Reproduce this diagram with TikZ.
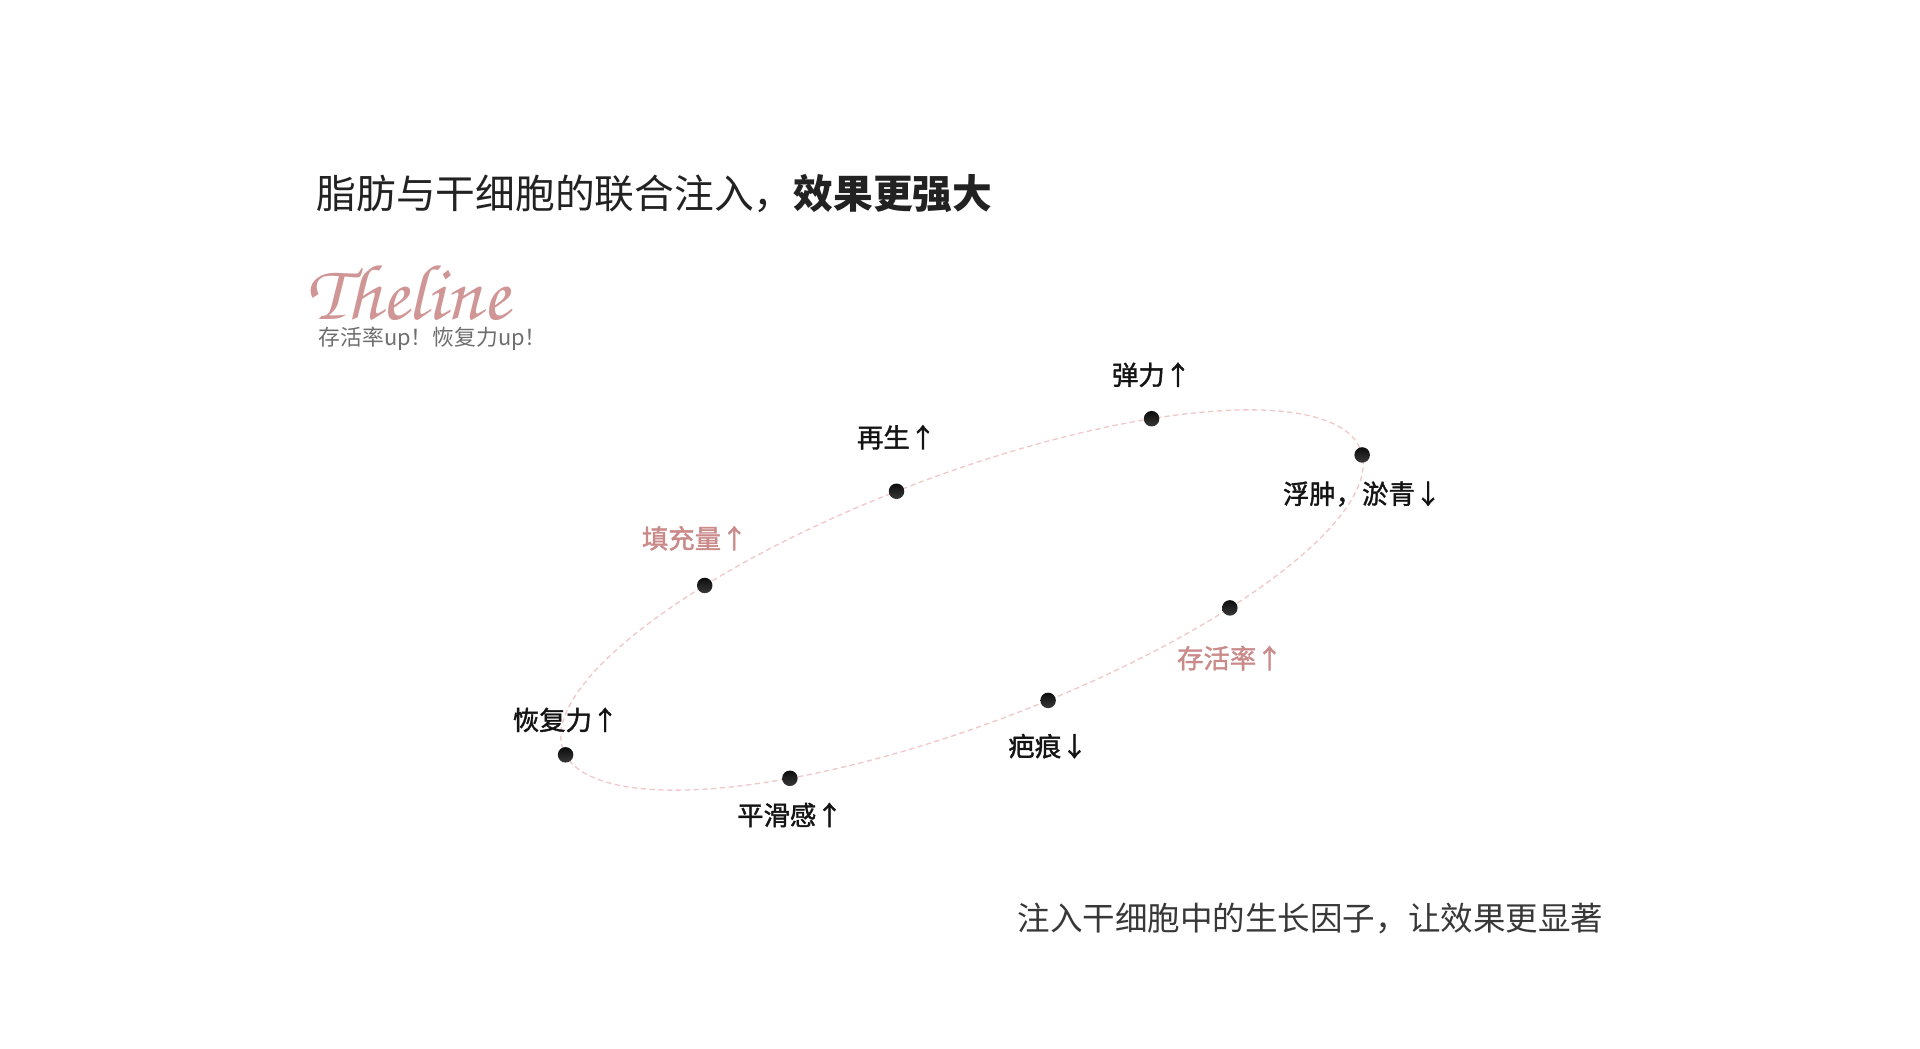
\documentclass[tikz,border=0pt]{standalone}
\usepackage{fontspec}
\setmainfont{Noto Sans CJK SC}
\newfontfamily\midfnt[FakeBold=1.5]{Noto Sans CJK SC}
\newfontfamily\scriptfnt{texgyrechorus-mediumitalic.otf}
\usetikzlibrary{positioning}
\definecolor{rose}{RGB}{203,138,138}
\definecolor{ringpink}{RGB}{240,200,200}
\definecolor{inkgray}{RGB}{34,34,34}
\definecolor{subgray}{RGB}{110,110,110}

\begin{document}
\begin{tikzpicture}[x=0.01cm,y=-0.01cm,
  dot/.style={circle,top color=black!95,bottom color=black!78,minimum size=0.155cm,inner sep=0pt},
  lbl/.style={inner sep=0pt,text height=0.82em,text depth=0.14em,font=\midfnt\fontsize{7.5pt}{8.5pt}\selectfont,text=black!92},
  pinklbl/.style={lbl,text=rose},
  plain/.style={anchor=base west,inner sep=0pt}]
\useasboundingbox[fill=white] (0,0) rectangle (1920,1049);
% heading
\node[plain,text=inkgray,font=\fontsize{11.3pt}{13pt}\selectfont] (title) at (316,209) {脂肪与干细胞的联合注入，\textbf{效果更强大}};
\node[plain,text=rose!90,text depth=0pt,font=\scriptfnt\fontsize{22.5pt}{22.5pt}\selectfont] (logo) at (306,320) {Theline};
\node[plain,text=subgray,font=\fontsize{6.2pt}{7pt}\selectfont] (sub) at (318,346) {存活率up！恢复力up！};
\node[plain,text=inkgray!90,font=\fontsize{9.25pt}{11pt}\selectfont] (note) at (1017,931) {注入干细胞中的生长因子，让效果更显著};
% ring
\begin{scope}[shift={(962,600)},rotate=20.6]
\draw[ringpink,line width=0.37pt,dash pattern=on 1.5pt off 1pt] (0,0) ellipse [x radius=426,y radius=125];
\node[dot] (p1) at (-182.5:426 and 125) {};
\node[dot] (p2) at (-238.3:426 and 125) {};
\node[dot] (p3) at (83.9:426 and 125) {};
\node[dot] (p4) at (54.4:426 and 125) {};
\node[dot] (p5) at (2.3:426 and 125) {};
\node[dot] (p6) at (-55.5:426 and 125) {};
\node[dot] (p7) at (-93.1:426 and 125) {};
\node[dot] (p8) at (-123.6:426 and 125) {};
\end{scope}
% labels
\node[lbl,above=0.108cm of p1] (l1) {恢复力↑};
\node[lbl,below=0.088cm of p2] (l2) {平滑感↑};
\node[lbl,below=0.178cm of p3] (l3) {疤痕↓};
\node[pinklbl,below=0.223cm of p4] (l4) {存活率↑};
\node[lbl,below=0.108cm of p5] (l5) {浮肿，淤青↓};
\node[lbl,above=0.198cm of p6] (l6) {弹力↑};
\node[lbl,above=0.298cm of p7] (l7) {再生↑};
\node[pinklbl,above=0.23cm of p8,xshift=-0.1cm] (l8) {填充量↑};
\end{tikzpicture}
\end{document}
